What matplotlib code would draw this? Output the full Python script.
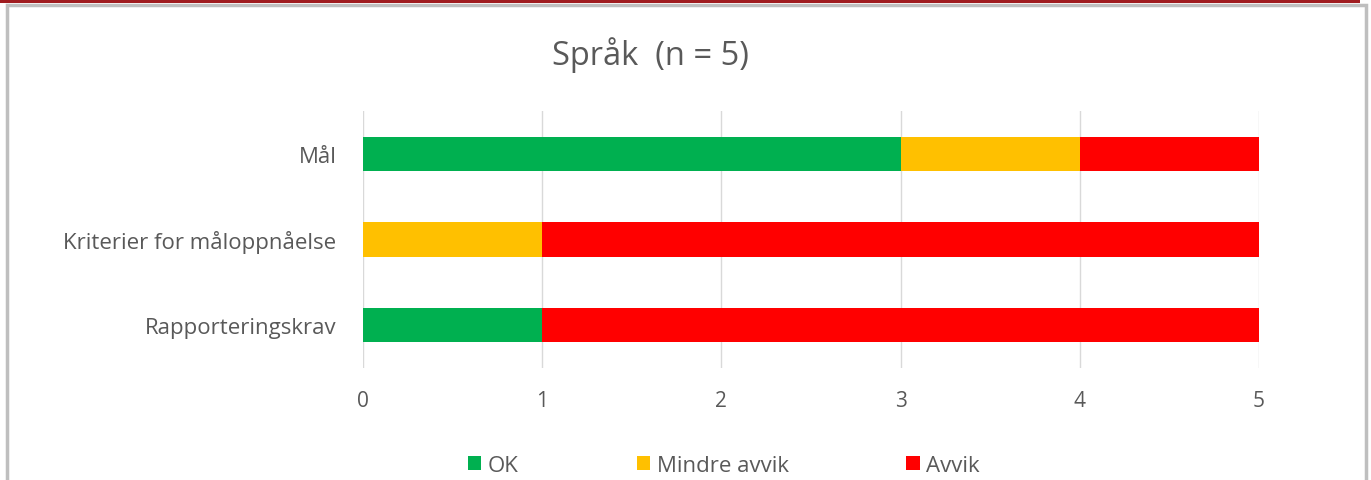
import matplotlib.pyplot as plt
from matplotlib.patches import Rectangle

# Data
categories = ['Mål', 'Kriterier for måloppnåelse', 'Rapporteringskrav']
ok = [3, 0, 1]
mindre_avvik = [1, 1, 0]
avvik = [1, 4, 4]
series_names = ['OK', 'Mindre avvik', 'Avvik']
colors = ['#00B050', '#FFC000', '#FF0000']

plt.rcParams['font.family'] = ['Open Sans', 'DejaVu Sans']
text_color = '#595959'

fig = plt.figure(figsize=(13.71, 4.81), dpi=100)

# frame around the chart and red strip at top
fig.patches.append(Rectangle((7 / 1371, -0.05), 1359 / 1371, 1 - 6 / 481 + 0.05,
                             transform=fig.transFigure, fill=False,
                             edgecolor='#BFBFBF', linewidth=2.5))
fig.patches.append(Rectangle((0, 1 - 3.5 / 481), 1360 / 1371, 3.5 / 481,
                             transform=fig.transFigure, facecolor='#A01C20',
                             edgecolor='none'))

ax = fig.add_axes([363 / 1371, 1 - 369 / 481, 896 / 1371, 257 / 481])

y = range(len(categories))
left = [0] * len(categories)
for vals, name, c in zip([ok, mindre_avvik, avvik], series_names, colors):
    ax.barh(y, vals, left=left, height=0.4, color=c, label=name, zorder=3)
    left = [l + v for l, v in zip(left, vals)]

ax.set_yticks(list(y))
ax.set_yticklabels(categories, fontsize=16, color=text_color)
ax.set_ylim(2.5, -0.5)
ax.set_xlim(0, 5)
ax.set_xticks(range(6))
ax.tick_params(axis='x', labelsize=15, colors=text_color, length=0, pad=16)
ax.tick_params(axis='y', length=0, pad=19)
ax.grid(axis='x', color='#D9D9D9', linewidth=1, zorder=0)
for s in ax.spines.values():
    s.set_visible(False)

fig.text(650 / 1371, 1 - 55 / 481, 'Språk  (n = 5)', ha='center', va='center',
         fontsize=23.5, color=text_color)

fig.legend(loc='center', bbox_to_anchor=(724 / 1371, 1 - 466 / 481), ncol=3,
           frameon=False, fontsize=16, handlelength=0.6, handleheight=0.6,
           handletextpad=0.3, columnspacing=5.3, labelcolor=text_color)

fig.savefig('out.png', dpi=100)
